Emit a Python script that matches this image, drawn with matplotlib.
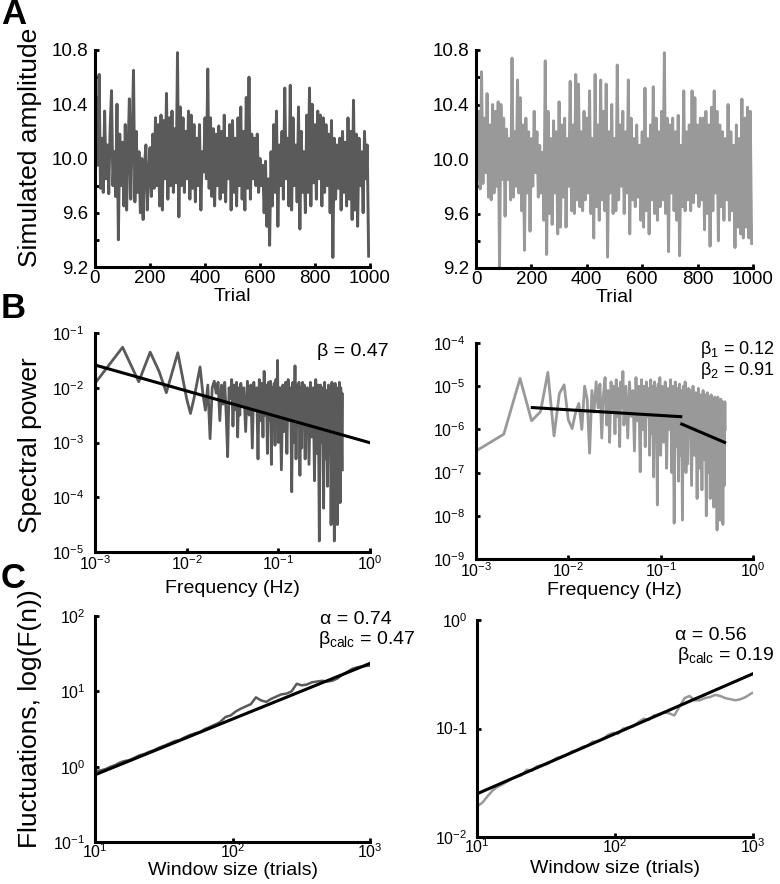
import numpy as np
import matplotlib
matplotlib.use('Agg')
import matplotlib.pyplot as plt
from matplotlib.ticker import NullLocator, FixedLocator

plt.rcParams['font.family'] = ['Liberation Sans', 'DejaVu Sans']
plt.rcParams['mathtext.fontset'] = 'custom'
plt.rcParams['mathtext.rm'] = 'Liberation Sans'
plt.rcParams['mathtext.it'] = 'Liberation Sans:italic'
plt.rcParams['mathtext.default'] = 'regular'

# ---- A: simulated amplitude, sampled every 5 trials ----
trial = np.arange(0, 1000, 5)
amp_left = [
    10.25, 10.45, 9.95, 10.62, 9.78, 10.15, 9.75, 10.35, 9.85, 10.10, 9.74, 10.22, 10.50, 9.80, 10.05, 9.72, 10.40, 9.40, 10.18, 9.80,
    10.12, 9.65, 10.25, 9.62, 10.05, 10.44, 9.70, 10.15, 10.65, 9.68, 10.20, 9.75, 10.05, 9.60, 10.00, 9.55, 9.95, 10.10, 9.62, 9.88,
    10.08, 9.72, 10.18, 9.78, 10.30, 9.80, 10.25, 9.65, 10.32, 9.62, 10.28, 9.85, 10.48, 9.70, 10.30, 9.80, 10.35, 9.75, 10.22, 9.82,
    10.78, 9.57, 10.38, 9.80, 10.30, 9.75, 10.20, 9.85, 10.35, 9.70, 10.32, 9.78, 10.25, 9.68, 10.15, 9.80, 10.25, 9.62, 10.05, 9.90,
    10.30, 9.85, 10.66, 9.78, 10.30, 9.72, 10.22, 9.65, 10.18, 9.80, 10.24, 9.70, 10.20, 9.75, 10.32, 9.68, 10.15, 9.85, 10.25, 9.62,
    10.28, 9.75, 10.15, 9.65, 10.30, 9.80, 10.38, 9.70, 10.20, 9.62, 10.45, 9.78, 10.60, 9.70, 10.18, 9.85, 10.15, 9.80, 10.18, 9.75,
    10.00, 9.80, 9.95, 9.60, 9.98, 9.50, 9.85, 9.36, 10.05, 9.65, 10.25, 9.75, 10.35, 9.50, 10.10, 9.80, 10.20, 9.70, 10.52, 9.85,
    10.15, 9.65, 10.54, 9.62, 10.30, 9.80, 10.10, 9.68, 10.38, 9.48, 10.20, 9.75, 10.05, 9.60, 10.32, 9.75, 10.52, 9.65, 10.40, 9.82,
    10.25, 9.70, 10.35, 9.85, 10.32, 9.65, 10.30, 9.75, 10.25, 9.80, 10.18, 9.60, 10.28, 9.27, 10.15, 9.70, 10.10, 9.78, 10.15, 9.62,
    10.20, 9.75, 10.12, 9.65, 10.30, 9.70, 10.20, 9.55, 10.43, 9.62, 10.18, 9.50, 10.15, 9.80, 10.05, 9.60, 10.20, 9.85, 10.10, 9.28,
]
amp_right = [
    10.40, 9.85, 10.35, 9.78, 10.64, 9.82, 10.30, 9.90, 10.48, 9.72, 10.25, 9.70, 10.40, 9.75, 10.35, 9.80, 10.42, 9.20, 10.40, 9.85,
    10.30, 9.58, 10.22, 9.85, 10.15, 9.70, 10.74, 9.72, 10.20, 9.80, 10.58, 9.75, 10.45, 9.62, 10.25, 9.33, 10.30, 9.75, 10.20, 9.47,
    10.15, 9.80, 10.35, 9.90, 10.20, 9.72, 10.10, 9.75, 10.05, 9.55, 10.72, 9.30, 10.35, 9.60, 10.15, 9.52, 10.28, 9.75, 10.20, 9.45,
    10.42, 9.50, 10.25, 9.72, 10.30, 9.50, 10.15, 9.80, 10.57, 9.62, 10.25, 9.60, 10.62, 9.70, 10.55, 9.65, 10.20, 9.62, 10.35, 9.70,
    10.30, 9.75, 10.50, 9.60, 10.15, 9.42, 10.62, 9.65, 10.25, 9.55, 10.58, 9.70, 10.35, 9.62, 10.55, 9.28, 10.20, 9.75, 10.40, 9.60,
    10.15, 9.62, 10.69, 9.70, 10.25, 9.80, 10.35, 9.60, 10.20, 9.75, 10.58, 9.45, 10.30, 9.70, 10.15, 9.65, 10.25, 9.72, 10.10, 9.55,
    10.20, 9.50, 10.52, 9.62, 10.15, 9.45, 10.25, 9.70, 10.53, 9.60, 10.30, 9.55, 10.20, 9.65, 10.35, 9.70, 10.78, 9.60, 10.30, 9.32,
    10.25, 9.75, 10.30, 9.62, 10.20, 9.55, 10.32, 9.29, 10.10, 9.65, 10.50, 9.62, 10.20, 9.70, 10.25, 9.62, 10.50, 9.68, 10.45, 9.75,
    10.25, 9.65, 10.30, 9.70, 10.30, 9.48, 10.35, 9.60, 10.25, 9.36, 10.38, 9.62, 10.50, 9.75, 10.35, 9.40, 10.25, 9.65, 10.20, 9.55,
    10.15, 9.70, 10.40, 9.55, 10.20, 9.62, 10.10, 9.35, 10.25, 9.50, 10.15, 9.45, 10.44, 9.42, 10.30, 9.50, 10.38, 9.42, 10.35, 9.38,
]

# ---- B: power spectra (log10 power at frequency index k, f = k/1000 Hz) ----
spec_k = (list(range(1, 41)) + list(range(42, 101, 2)) + list(range(104, 201, 4))
          + list(range(208, 497, 8)) + [500])
spec_left_log = [
    -1.92, -1.26, -1.89, -1.35, -1.7, -2.09, -1.7, -1.36, -1.8, -2.2,
    -2.47, -2.2, -1.9, -1.62, -2.1, -2.41, -1.95, -2.93, -2.0, -1.88,
    -2.1, -1.9, -2.6, -1.95, -2.3, -1.9, -2.5, -3.26, -2.0, -2.2,
    -1.85, -2.7, -1.95, -2.4, -1.9, -2.9, -2.0, -2.5, -1.92, -2.3,
    -2.0, -2.8, -1.88, -2.5, -1.95, -3.1, -1.9, -2.4, -2.0, -3.3,
    -1.85, -2.6, -1.92, -2.9, -1.7, -2.5, -1.95, -3.2, -1.9, -2.6,
    -1.88, -3.4, -2.0, -2.7, -1.92, -3.05, -1.85, -2.5, -1.5, -3.0,
    -2.0, -3.5, -1.95, -2.8, -1.9, -3.2, -1.85, -2.6, -2.0, -3.9,
    -1.9, -3.0, -1.6, -3.3, -1.95, -2.7, -1.9, -3.6, -2.0, -3.1,
    -1.9, -2.6, -1.95, -3.3, -2.05,
    -2.0, -3.4, -1.9, -2.9, -2.0, -3.7, -1.85, -3.2, -1.95, -4.8,
    -1.95, -3.0, -2.0, -4.2, -1.9, -3.3, -2.05, -3.8, -1.95, -3.1,
    -2.0, -4.5, -1.9, -3.5, -2.0, -4.8, -1.92, -3.3, -2.05, -4.5,
    -2.0, -3.6, -1.9, -4.1, -2.0, -3.4, -2.1,
    -3.5,
]
spec_right_log = [
    -6.5, -6.11, -4.82, -5.8, -5.59, -4.68, -6.15, -5.17, -4.97, -5.78,
    -5.98, -5.6, -5.4, -6.0, -5.0, -5.3, -6.55, -5.1, -5.6, -4.9,
    -5.5, -4.95, -6.2, -5.2, -4.8, -5.9, -5.1, -6.3, -4.9, -5.6,
    -5.0, -6.1, -4.85, -5.7, -5.05, -6.4, -4.9, -5.5, -4.66, -5.9,
    -5.0, -6.2, -4.9, -5.7, -5.1, -6.5, -4.8, -5.8, -5.0, -6.98,
    -4.85, -6.0, -5.0, -6.4, -4.9, -5.7, -5.05, -6.6, -4.85, -6.1,
    -5.0, -7.1, -4.9, -5.9, -5.05, -7.75, -4.95, -6.2, -4.8, -6.6,
    -5.0, -6.3, -4.9, -6.9, -5.05, -6.0, -4.85, -7.0, -5.0, -8.17,
    -4.9, -6.4, -5.05, -7.2, -4.95, -6.6, -5.1, -8.1, -5.0, -6.5,
    -4.9, -7.0, -5.1, -6.8, -5.05,
    -5.1, -7.3, -5.0, -6.6, -5.15, -7.6, -5.05, -6.9, -5.2, -7.4,
    -5.1, -6.7, -5.2, -8.0, -5.15, -7.0, -5.25, -7.6, -5.2, -6.8,
    -5.3, -7.8, -5.25, -7.2, -5.3, -8.33, -5.25, -7.0, -5.35, -8.1,
    -5.3, -7.4, -5.35, -8.2, -5.4, -7.3, -5.36,
    -6.0,
]
fit_left_f = [1e-3, 1e0]
fit_left_p = [2.6e-2, 9.9e-4]
fit_right1_f = [4.07e-3, 0.165]
fit_right1_p = [3.2e-6, 1.97e-6]
fit_right2_f = [0.169, 0.493]
fit_right2_p = [1.33e-6, 5.0e-7]

# ---- C: detrended fluctuation analysis (log10 F(n)) ----
win_n = [10, 11, 12, 13, 14, 15, 16, 18, 19, 21, 23, 25, 27, 29, 32, 35, 38, 41, 45, 49,
         53, 58, 63, 69, 75, 81, 89, 97, 105, 115, 125, 136, 148, 161, 176, 191, 208, 227,
         247, 269, 293, 319, 347, 378, 411, 448, 488, 531, 578, 630, 686, 746, 813, 885,
         963, 1000]
dfa_left_log = [-0.06, -0.05, -0.03, 0.0, 0.02, 0.05, 0.07, 0.09, 0.11, 0.15, 0.17, 0.20,
                0.22, 0.25, 0.28, 0.31, 0.34, 0.35, 0.39, 0.42, 0.44, 0.46, 0.50, 0.53,
                0.56, 0.59, 0.66, 0.68, 0.73, 0.77, 0.80, 0.83, 0.92, 0.88, 0.86, 0.90,
                0.93, 0.96, 0.97, 1.00, 1.10, 1.08, 1.09, 1.12, 1.13, 1.14, 1.13, 1.14,
                1.17, 1.22, 1.26, 1.30, 1.32, 1.33, 1.34, 1.34]
dfa_right_log = [-1.72, -1.68, -1.62, -1.57, -1.54, -1.52, -1.50, -1.46, -1.45, -1.43,
                 -1.38, -1.39, -1.35, -1.34, -1.33, -1.30, -1.27, -1.26, -1.24, -1.21,
                 -1.20, -1.17, -1.16, -1.12, -1.12, -1.10, -1.06, -1.04, -1.05, -1.00,
                 -0.99, -0.98, -0.94, -0.91, -0.92, -0.88, -0.87, -0.85, -0.86, -0.88,
                 -0.80, -0.72, -0.70, -0.74, -0.74, -0.72, -0.71, -0.69, -0.70, -0.72,
                 -0.73, -0.74, -0.73, -0.71, -0.68, -0.67]
dfa_left_fit_n = [10, 1000]
dfa_left_fit_F = [0.78, 23.5]
dfa_right_fit_n = [10, 1000]
dfa_right_fit_F = [0.025, 0.32]

DARK = '#5a5a5a'
LIGHT = '#999999'
W, H = 780, 884


def rect(x0, x1, ytop, ybot):
    return [x0 / W, 1 - ybot / H, (x1 - x0) / W, (ybot - ytop) / H]


def style(ax, labelsize=13.5, xpad=2, ypad=5):
    for s in ['top', 'right']:
        ax.spines[s].set_visible(False)
    for s in ['left', 'bottom']:
        ax.spines[s].set_linewidth(2.2)
    ax.tick_params(which='both', direction='in', length=3, width=2,
                   labelsize=labelsize)
    ax.tick_params(axis='x', which='both', pad=xpad)
    ax.tick_params(axis='y', which='both', pad=ypad)
    ax.patch.set_alpha(0)


def log_axes(ax):
    ax.set_xscale('log')
    ax.set_yscale('log')
    ax.xaxis.set_minor_locator(NullLocator())
    ax.yaxis.set_minor_locator(NullLocator())


fig = plt.figure(figsize=(7.8, 8.84), dpi=100)

# Panel A
axA1 = fig.add_axes(rect(95, 370, 50, 267))
axA2 = fig.add_axes(rect(476, 753, 50, 268))
for ax, amp, col in [(axA1, amp_left, DARK), (axA2, amp_right, LIGHT)]:
    ax.plot(trial, amp, color=col, lw=2.1)
    ax.set_xlim(0, 1000)
    ax.set_ylim(9.2, 10.8)
    ax.set_xticks([0, 200, 400, 600, 800, 1000])
    ax.set_yticks([9.2, 9.6, 10.0, 10.4, 10.8])
    ax.set_yticklabels(['9.2', '9.6', '10.0', '10.4', '10.8'])
    ax.yaxis.set_minor_locator(FixedLocator([9.4, 9.8, 10.2, 10.6]))
    style(ax)
    ax.set_xlabel('Trial', fontsize=14)
    ax.xaxis.set_label_coords(0.5, -0.097)
axA1.set_ylabel('Simulated amplitude', fontsize=19)
axA1.yaxis.set_label_coords(-0.193, 0.55)

# Panel B
spec_f = np.array(spec_k) / 1000.0
axB1 = fig.add_axes(rect(95, 370, 333, 552))
axB1.plot(spec_f, 10.0 ** np.array(spec_left_log), color=DARK, lw=2.0)
axB1.plot(fit_left_f, fit_left_p, color='black', lw=2.2)
log_axes(axB1)
axB1.set_xlim(1e-3, 1e0)
axB1.set_ylim(1e-5, 1e-1)
style(axB1, 11.5, xpad=1.5, ypad=7.5)
axB1.set_ylabel('Spectral power', fontsize=19)
axB1.yaxis.set_label_coords(-0.193, 0.49)
axB1.set_xlabel('Frequency (Hz)', fontsize=14)
axB1.xaxis.set_label_coords(0.5, -0.13)
axB1.text(0.807, 0.914, 'β = 0.47', transform=axB1.transAxes, fontsize=14,
          ha='left', va='center')

axB2 = fig.add_axes(rect(476, 753, 343, 559))
axB2.plot(spec_f, 10.0 ** np.array(spec_right_log), color=LIGHT, lw=2.0)
axB2.plot(fit_right1_f, fit_right1_p, color='black', lw=2.2)
axB2.plot(fit_right2_f, fit_right2_p, color='black', lw=2.2)
log_axes(axB2)
axB2.set_xlim(1e-3, 1e0)
axB2.set_ylim(1e-9, 1e-4)
style(axB2, 11.5, xpad=1.5, ypad=7.5)
axB2.set_xlabel('Frequency (Hz)', fontsize=14)
axB2.xaxis.set_label_coords(0.5, -0.105)
axB2.text(0.808, 0.968, 'β$_1$ = 0.12', transform=axB2.transAxes, fontsize=13,
          ha='left', va='center')
axB2.text(0.808, 0.872, 'β$_2$ = 0.91', transform=axB2.transAxes, fontsize=13,
          ha='left', va='center')

# Panel C
axC1 = fig.add_axes(rect(95, 370, 616, 842))
axC1.plot(win_n, 10.0 ** np.array(dfa_left_log), color=DARK, lw=1.8)
axC1.plot(dfa_left_fit_n, dfa_left_fit_F, color='black', lw=2.2)
log_axes(axC1)
axC1.set_xlim(10, 1000)
axC1.set_ylim(1e-1, 1e2)
style(axC1, 11.5, xpad=0.5, ypad=7)
axC1.set_ylabel('Fluctuations, log(F(n))', fontsize=19)
axC1.yaxis.set_label_coords(-0.193, 0.545)
axC1.set_xlabel('Window size (trials)', fontsize=14)
axC1.xaxis.set_label_coords(0.5, -0.088)
axC1.text(0.818, 0.985, 'α = 0.74', transform=axC1.transAxes, fontsize=14,
          ha='left', va='center')
axC1.text(0.811, 0.895, r'β$_{calc}$ = 0.47', transform=axC1.transAxes, fontsize=14,
          ha='left', va='center')

axC2 = fig.add_axes(rect(477, 753, 620, 837))
axC2.plot(win_n, 10.0 ** np.array(dfa_right_log), color=LIGHT, lw=1.8)
axC2.plot(dfa_right_fit_n, dfa_right_fit_F, color='black', lw=2.2)
log_axes(axC2)
axC2.set_xlim(10, 1000)
axC2.set_ylim(1e-2, 1e0)
style(axC2, 11.5, xpad=0.5, ypad=7)
axC2.set_yticks([1e-2, 1e-1, 1e0])
axC2.set_yticklabels([r'$\mathdefault{10^{-2}}$', '10-1', r'$\mathdefault{10^{0}}$'])
axC2.set_xlabel('Window size (trials)', fontsize=14)
axC2.xaxis.set_label_coords(0.5, -0.105)
axC2.text(0.718, 0.93, 'α = 0.56', transform=axC2.transAxes, fontsize=14,
          ha='left', va='center')
axC2.text(0.726, 0.835, r'β$_{calc}$ = 0.19', transform=axC2.transAxes, fontsize=14,
          ha='left', va='center')

# Panel letters
for letter, ypix in [('A', 15), ('B', 309), ('C', 578)]:
    fig.text(1 / W, 1 - ypix / H, letter, fontsize=25, fontweight='bold',
             ha='left', va='center')

fig.savefig('out.png', dpi=100)
